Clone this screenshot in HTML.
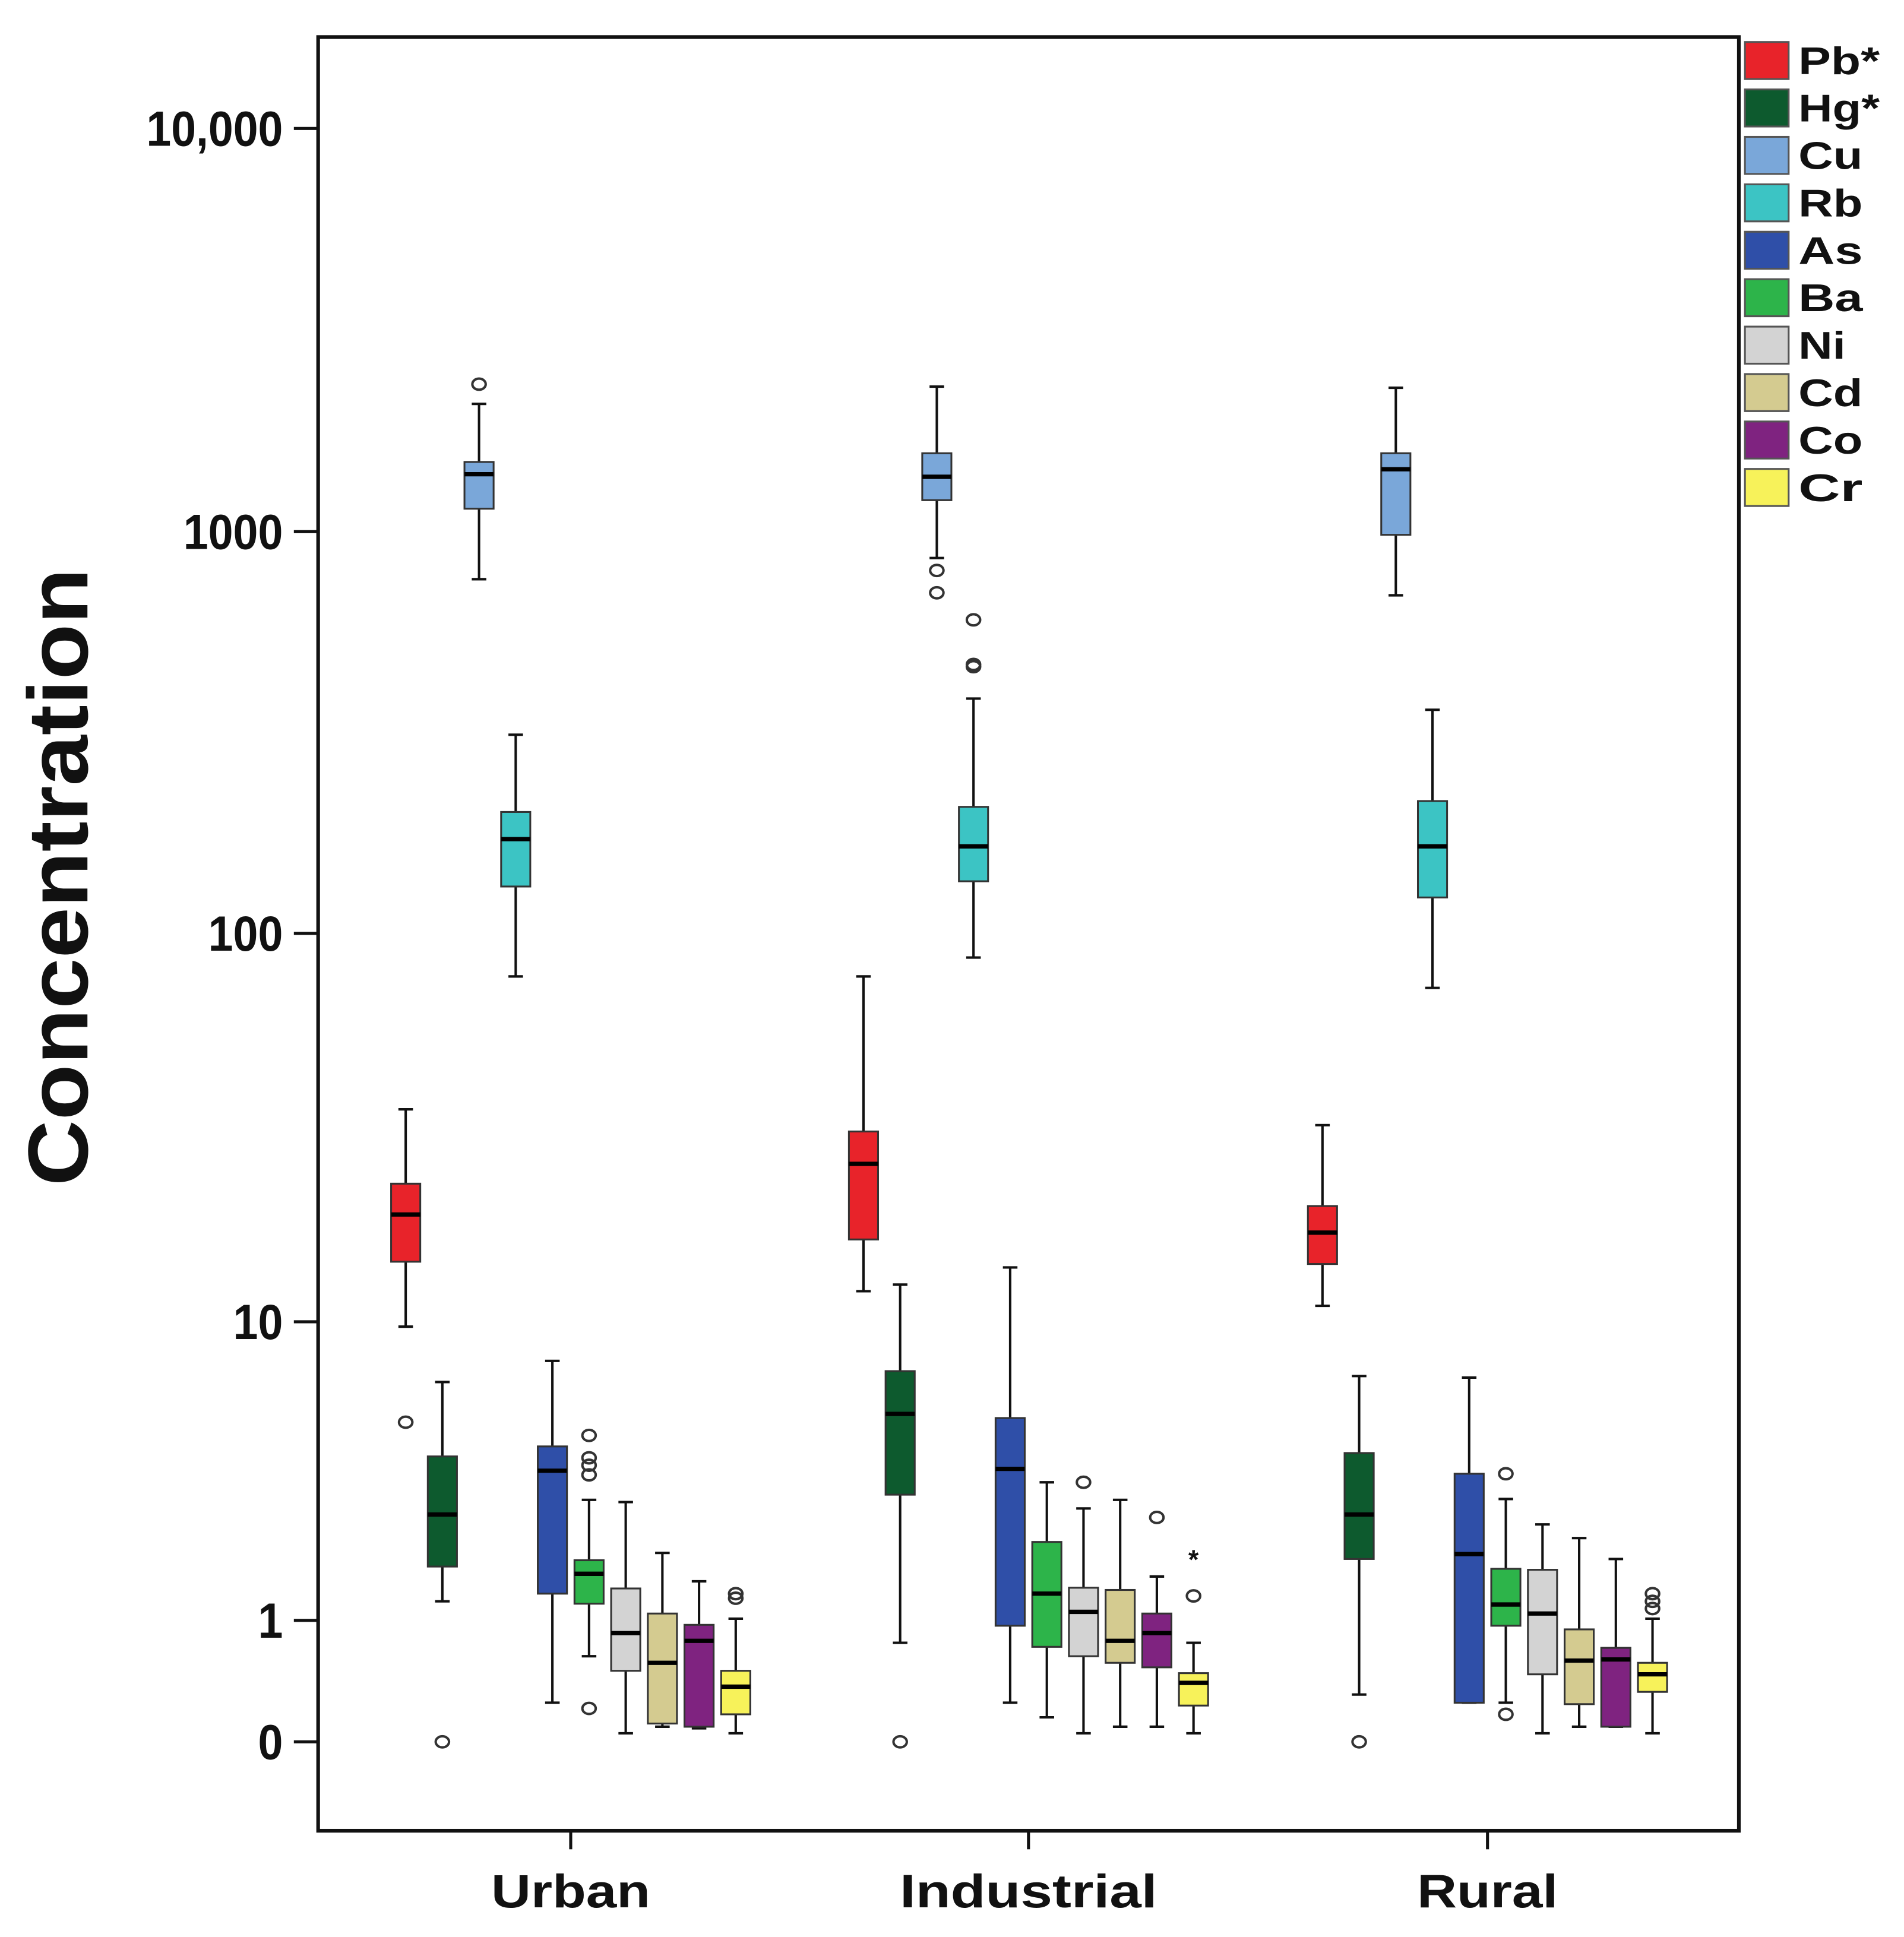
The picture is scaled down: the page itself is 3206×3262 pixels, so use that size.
<!DOCTYPE html>
<html><head><meta charset="utf-8"><style>
html,body{margin:0;padding:0;background:#fff}
svg{display:block}
text{font-family:"Liberation Sans",sans-serif;font-weight:bold;fill:#111}
</style></head><body>
<svg id="chart" width="3206" height="3262" viewBox="0 0 1568 1568" preserveAspectRatio="none" xmlns="http://www.w3.org/2000/svg">
<rect x="262" y="30" width="1170" height="1452" fill="none" stroke="#111" stroke-width="3"/>
<text transform="translate(72,710) rotate(-90)" text-anchor="middle" font-size="70" textLength="500" lengthAdjust="spacingAndGlyphs">Concentration</text>
<g id="yaxis"></g>
<g id="xaxis"></g>
<g id="boxes"></g>
<g id="legend"></g>
</svg>
<script>
const groups=["Urban","Industrial","Rural"];
const elements=["Pb*","Hg*","Cu","Rb","As","Ba","Ni","Cd","Co","Cr"];
const colors=["#e8232a","#0d5a2e","#7aa7d9","#3cc4c4","#2f4fa8","#2db44a","#d3d3d3","#d4cb90","#7f2380","#f7f25a"];
const yTickValues=[0,1,10,100,1000,10000];
const yTickLabels=["0","1","10","100","1000","10,000"];
// [low whisker, Q1, median, Q3, high whisker] per group per element
const urbanStats=[[9.7,14.5,19.3,23.2,36],[1.23,1.72,2.66,4.1,6.8],[762,1140,1388,1489,2075],[78,131,172,201,313],[0.25,1.33,3.7,4.4,7.8],[0.63,1.2,1.61,1.82,2.98],[0.05,0.5,0.86,1.4,2.93],[0.09,0.11,0.57,1.08,1.94],[0.08,0.09,0.78,0.95,1.5],[0.05,0.17,0.37,0.5,1.02]];
const industrialStats=[[12.1,16.6,26.1,31.6,78],[0.76,3.1,5.5,7.3,12.6],[860,1197,1368,1565,2290],[87,135,165,207,385],[0.25,0.94,3.75,5.35,14],[0.15,0.72,1.33,2.13,3.4],[0.05,0.63,1.1,1.41,2.79],[0.09,0.57,0.78,1.38,2.98],[0.09,0.53,0.86,1.08,1.57],[0.05,0.23,0.4,0.48,0.76]];
const ruralStats=[[11.05,14.3,17.3,20.3,32.8],[0.31,1.84,2.66,4.2,7.07],[695,982,1428,1565,2275],[73,123,165,214,361],[0.25,0.25,1.92,3.62,7.0],[0.25,0.94,1.19,1.685,3.0],[0.05,0.47,1.08,1.67,2.46],[0.09,0.24,0.59,0.9,2.2],[0.09,0.09,0.6,0.71,1.84],[0.05,0.33,0.47,0.57,1.02]];
const urbanOutliers=[[5.2],[0],[2322],[],[],[4.75,4.06,3.85,3.59,0.21],[],[],[],[1.33,1.27]];
const industrialOutliers=[[],[0],[801,705],[604,468,462],[],[],[3.4],[],[2.6],[1.3]];
const ruralOutliers=[[],[0],[],[],[],[3.62,0.17],[],[],[],[1.33,1.23,1.14]];
const industrialExtremes=[[],[],[],[],[],[],[],[],[],[1.86]];

const NS="http://www.w3.org/2000/svg";
function y(v){return 1410-326.5*Math.log10(v+1);}
const groupCenters=[470,847,1225];
function x(g,e){return groupCenters[g]+(e-4.5)*30.2;}
function mk(tag,attrs,parent){const el=document.createElementNS(NS,tag);for(const k in attrs)el.setAttribute(k,attrs[k]);parent.appendChild(el);return el;}
function tickWidth(s){let w=0;for(const c of s)w+=(c===','?10:20.5);return w;}
function labelWidth(s){let w=0;for(const c of s)w+=('iIl'.includes(c)?10:(c==='*'?14:(c===c.toUpperCase()&&c!==c.toLowerCase()?29:24)));return w;}

const ya=document.getElementById('yaxis');
yTickValues.forEach((v,i)=>{
  const t=mk('line',{x1:242,x2:262,y1:y(v),y2:y(v),stroke:'#111','stroke-width':2.5},ya);
  
  
  const l=mk('text',{x:233,y:y(v)+14,'text-anchor':'end','font-size':40,textLength:tickWidth(yTickLabels[i]),lengthAdjust:'spacingAndGlyphs'},ya);
  l.textContent=yTickLabels[i];
  
  
});
const xa=document.getElementById('xaxis');
const xLabelWidths=[131,212,116];
groups.forEach((g,i)=>{
  const t=mk('line',{x1:groupCenters[i],x2:groupCenters[i],y1:1482,y2:1497,stroke:'#111','stroke-width':2.5},xa);
  
  
  const l=mk('text',{x:groupCenters[i],y:1544,'text-anchor':'middle','font-size':38,textLength:xLabelWidths[i],lengthAdjust:'spacingAndGlyphs'},xa);
  l.textContent=g;
  
  
});

const bx=document.getElementById('boxes');
const stats=[urbanStats,industrialStats,ruralStats];
const outs=[urbanOutliers,industrialOutliers,ruralOutliers];
stats.forEach((gs,g)=>{
  gs.forEach((s,e)=>{
    const cx=x(g,e),w=24;
    const grp=mk('g',{},bx);
    
    
    mk('line',{x1:cx,x2:cx,y1:y(s[4]),y2:y(s[3]),stroke:'#111','stroke-width':2},grp);
    mk('line',{x1:cx,x2:cx,y1:y(s[1]),y2:y(s[0]),stroke:'#111','stroke-width':2},grp);
    mk('line',{x1:cx-6,x2:cx+6,y1:y(s[4]),y2:y(s[4]),stroke:'#111','stroke-width':2},grp);
    mk('line',{x1:cx-6,x2:cx+6,y1:y(s[0]),y2:y(s[0]),stroke:'#111','stroke-width':2},grp);
    mk('rect',{x:cx-w/2,y:y(s[3]),width:w,height:Math.max(1,y(s[1])-y(s[3])),fill:colors[e],stroke:'#333','stroke-width':1.5},grp);
    mk('line',{x1:cx-w/2,x2:cx+w/2,y1:y(s[2]),y2:y(s[2]),stroke:'#000','stroke-width':3.5},grp);
    outs[g][e].forEach(v=>{
      const c=mk('ellipse',{cx:cx,cy:y(v),rx:5.5,ry:4.5,fill:'none',stroke:'#333','stroke-width':2},grp);
      
      
    });
  });
});
industrialExtremes.forEach((arr,e)=>arr.forEach(v=>{
  const s=mk('text',{x:x(1,e),y:y(v)+9,'text-anchor':'middle','font-size':22,fill:'#444'},bx);
  s.textContent='*';
  
  
}));

const lg=document.getElementById('legend');
elements.forEach((el,i)=>{
  const cy=49+i*38.4;
  const g=mk('g',{},lg);
  
  
  mk('rect',{x:1437,y:cy-15,width:36,height:30,fill:colors[i],stroke:'#555','stroke-width':1.5},g);
  const t=mk('text',{x:1481,y:cy+11,'font-size':31,textLength:labelWidth(el),lengthAdjust:'spacingAndGlyphs'},g);
  t.textContent=el;
});
</script>
</body></html>
